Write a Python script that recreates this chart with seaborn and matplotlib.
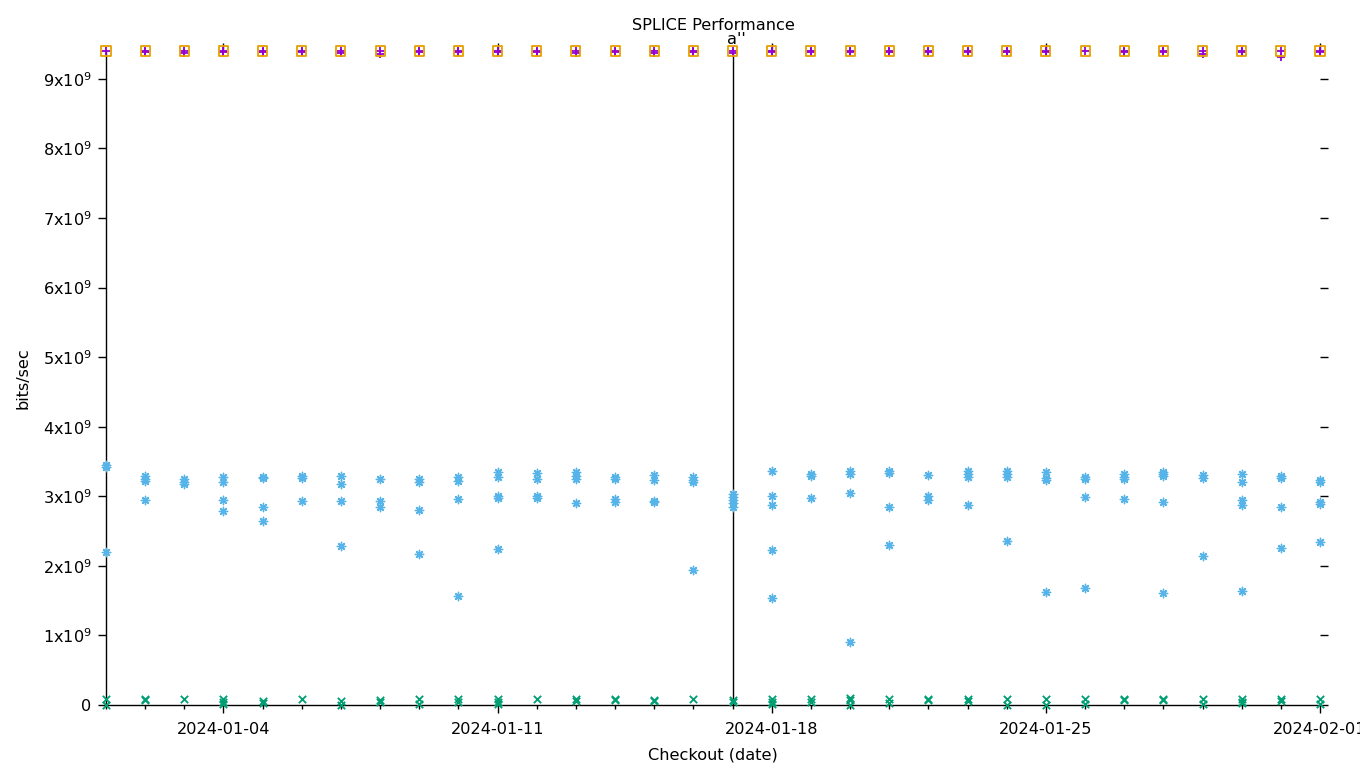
import numpy as np
import pandas as pd
import matplotlib
matplotlib.use("Agg")
import matplotlib.pyplot as plt
import matplotlib.dates as mdates
import seaborn as sns

# ---- data (values in units of 1e9 bits/sec), one list per day Jan 1 .. Feb 1, 2024 ----
dates = pd.date_range("2024-01-01", "2024-02-01", freq="D")

blue_vals = [
    [3.42, 3.45, 2.20],
    [3.29, 3.25, 3.22, 2.95],
    [3.25, 3.21, 3.18],
    [3.28, 3.21, 2.95, 2.79],
    [3.28, 3.26, 2.85, 2.65],
    [3.29, 3.26, 2.93],
    [3.29, 3.18, 2.93, 2.29],
    [3.25, 2.93, 2.85],
    [3.25, 3.21, 2.80, 2.17],
    [3.28, 3.22, 2.96, 1.57],
    [3.35, 3.28, 3.00, 2.98, 2.24],
    [3.34, 3.25, 3.00, 2.98],
    [3.35, 3.29, 3.25, 2.90],
    [3.28, 3.25, 2.96, 2.92],
    [3.31, 3.23, 2.93, 2.92],
    [3.28, 3.23, 3.21, 1.94],
    [3.03, 2.99, 2.95, 2.90, 2.85],
    [3.36, 3.00, 2.88, 2.23, 1.54],
    [3.32, 3.29, 2.98],
    [3.36, 3.32, 3.05, 0.91],
    [3.36, 3.34, 2.85, 2.30],
    [3.31, 3.00, 2.95],
    [3.36, 3.32, 3.28, 2.88],
    [3.36, 3.32, 3.28, 2.36],
    [3.35, 3.26, 3.23, 1.62],
    [3.28, 3.25, 2.99, 1.68],
    [3.32, 3.28, 3.25, 2.96],
    [3.35, 3.32, 3.29, 2.92, 1.61],
    [3.31, 3.26, 2.14],
    [3.32, 3.21, 2.95, 2.88, 1.64],
    [3.29, 3.26, 2.85, 2.26],
    [3.23, 3.21, 2.92, 2.89, 2.34],
]

green_vals = [
    [0.08, 0.00], [0.08, 0.07], [0.08], [0.08, 0.05, 0.02], [0.06, 0.03],
    [0.08], [0.06, 0.00], [0.07, 0.05], [0.08, 0.01], [0.08, 0.04],
    [0.08, 0.05, 0.02], [0.08], [0.08, 0.06], [0.08, 0.07], [0.07, 0.06],
    [0.08], [0.07, 0.05], [0.08, 0.05, 0.02], [0.08, 0.05], [0.10, 0.07, 0.00],
    [0.08, 0.03], [0.08, 0.07], [0.09, 0.06], [0.08, 0.00], [0.08, 0.00],
    [0.08, 0.02], [0.08, 0.07], [0.08, 0.07], [0.08, 0.01], [0.08, 0.05, 0.03],
    [0.08, 0.06], [0.08, 0.02],
]

purple_vals = [
    [9.40], [9.40, 9.38], [9.40, 9.37], [9.40, 9.38], [9.40, 9.39],
    [9.40, 9.38], [9.40, 9.37], [9.40, 9.35], [9.40, 9.38], [9.40, 9.39],
    [9.40, 9.38], [9.40, 9.38], [9.40, 9.37], [9.40, 9.38], [9.40, 9.37],
    [9.40, 9.39], [9.40, 9.37], [9.40, 9.38], [9.40, 9.38], [9.40, 9.38],
    [9.40, 9.39], [9.40, 9.38], [9.40, 9.39], [9.40, 9.38], [9.40, 9.38],
    [9.40], [9.40, 9.38], [9.40, 9.38], [9.40, 9.36], [9.40, 9.38],
    [9.40, 9.32], [9.40, 9.38],
]

orange_vals = [[9.40] for _ in range(32)]

marker_date = pd.Timestamp("2024-01-17")
marker_label = "a''"

ytick_vals = list(range(0, 10))
ytick_labels = ["0"] + [f"{i}x10$^{{9}}$" for i in range(1, 10)]


def to_frame(vals):
    rows = [(d, v * 1e9) for d, lst in zip(dates, vals) for v in lst]
    return pd.DataFrame(rows, columns=["date", "value"])


df_purple = to_frame(purple_vals)
df_green = to_frame(green_vals)
df_blue = to_frame(blue_vals)
df_orange = to_frame(orange_vals)

sns.set_theme(style="white")
plt.rcParams["font.family"] = ["DejaVu Sans"]
FS = 11.6

fig = plt.figure(figsize=(13.6, 7.68), dpi=100)
ax = fig.add_axes([106 / 1360, 63 / 768, (1320 - 106) / 1360, (705 - 51) / 768])

common = dict(ax=ax, x="date", y="value", legend=False, clip_on=False, zorder=3)
sns.scatterplot(data=df_purple, marker="+", color="#9400D3", s=32, linewidth=1.3, **common)
sns.scatterplot(data=df_green, marker="x", color="#009E73", s=28, linewidth=1.3, **common)
sns.scatterplot(data=df_blue, marker=(8, 2, 0), color="#56B4E9", s=36, linewidth=1.0, **common)
sns.scatterplot(data=df_orange, marker="s", facecolor="none", edgecolor="#E69F00",
                s=42, linewidth=1.3, **common)

ax.axvline(marker_date, color="black", lw=1, zorder=2)
ax.annotate(marker_label, xy=(marker_date, 1.0), xycoords=("data", "axes fraction"),
            xytext=(3, 3), textcoords="offset points", ha="center", va="bottom",
            fontsize=FS, color="black")

ax.set_xlim(pd.Timestamp("2024-01-01"), pd.Timestamp("2024-02-01"))
ax.set_ylim(0, 9.4e9)

ax.xaxis.set_major_locator(mdates.WeekdayLocator(byweekday=mdates.TH))
ax.xaxis.set_minor_locator(mdates.DayLocator())
ax.xaxis.set_major_formatter(mdates.DateFormatter("%Y-%m-%d"))
ax.set_yticks([v * 1e9 for v in ytick_vals])
ax.set_yticklabels(ytick_labels)

for s in ["top", "right"]:
    ax.spines[s].set_visible(False)
for s in ["left", "bottom"]:
    ax.spines[s].set_color("black")
    ax.spines[s].set_linewidth(1)

ax.tick_params(axis="both", which="major", direction="out", length=5.5, width=1,
               color="black", labelsize=FS, labelcolor="black")
ax.tick_params(axis="y", which="major", left=True, right=True, pad=5)
ax.tick_params(axis="x", which="major", bottom=True, top=True, pad=7)
ax.tick_params(axis="x", which="minor", bottom=True, top=False, direction="out",
               length=3, width=1, color="black")

ax.set_title("SPLICE Performance", fontsize=FS, pad=15, color="black")
ax.set_xlabel("Checkout (date)", fontsize=FS, color="black", labelpad=7)
ax.set_ylabel("bits/sec", fontsize=FS, color="black", labelpad=9)
ax.grid(False)

fig.savefig("out.png", dpi=100)
